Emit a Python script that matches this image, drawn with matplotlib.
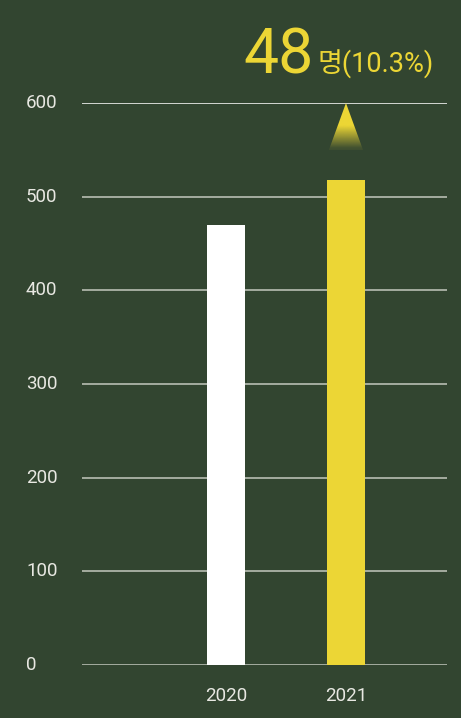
import matplotlib.pyplot as plt
import matplotlib.transforms as mtransforms
import numpy as np
from matplotlib.patches import Polygon

years = ['2020', '2021']
counts = [470, 518]
bar_colors = ['#ffffff', '#ecd635']
yticks = [0, 100, 200, 300, 400, 500, 600]
diff_label = '48'
diff_unit = '명(10.3%)'

bg = '#324530'
yellow = '#ecd635'
fonts = ['Roboto', 'Noto Sans CJK KR', 'DejaVu Sans']

fig = plt.figure(figsize=(4.61, 7.18), dpi=100)
fig.patch.set_facecolor(bg)
W, H = 461, 718

ax = fig.add_axes([82 / W, (H - 665) / H, (447 - 82) / W, (665 - 103) / H])
ax.set_facecolor('none')
x = np.arange(len(years))
ax.bar(x, counts, width=0.317, color=bar_colors, zorder=3)
ax.set_xlim(-1.2, 1.842)
ax.set_ylim(0, 600)

# gridlines
for t in yticks:
    c = '#ffffff' if t == max(yticks) else '#c4c8bd'
    ax.axhline(t, color=c, lw=1.1, zorder=1)

for s in ax.spines.values():
    s.set_visible(False)
ax.set_yticks([])
ax.tick_params(length=0)
ax.set_xticks(x)
ax.set_xticklabels(years, fontsize=13.5, color='#e8e8e2', family=fonts)
ax.tick_params(axis='x', pad=16)

# y labels, left aligned near the figure edge
trans = mtransforms.blended_transform_factory(fig.transFigure, ax.transData)
for t in yticks:
    ax.text(26 / W, t, str(t), transform=trans, ha='left', va='center',
            fontsize=13.5, color='#e8e8e2', family=fonts)

# gradient triangle pointing at the top gridline
tri_x = x[1]
top = ax.get_ylim()[1]
base = top - 50
half = 0.142
tri = Polygon([[tri_x - half, base], [tri_x + half, base], [tri_x, top]], closed=True,
              facecolor='none', edgecolor='none')
ax.add_patch(tri)
rgb = np.array([236, 214, 53]) / 255.0
ny = 100
grad = np.zeros((ny, 1, 4))
grad[:, 0, :3] = rgb
yy = np.linspace(base, top, ny)
grad[:, 0, 3] = np.clip((yy - base) / 26.0, 0.08, 1.0)
im = ax.imshow(grad, extent=[tri_x - half, tri_x + half, base, top], origin='lower',
               aspect='auto', zorder=4, interpolation='bilinear')
im.set_clip_path(tri)

# headline annotation
fig.text(243 / W, (H - 73) / H, diff_label, fontsize=45, color=yellow, family=fonts,
         ha='left', va='baseline')
fig.text(318 / W, (H - 73) / H, diff_unit, fontsize=19.5, color=yellow, family=fonts,
         ha='left', va='baseline')

fig.savefig('out.png', dpi=100, facecolor=bg)
